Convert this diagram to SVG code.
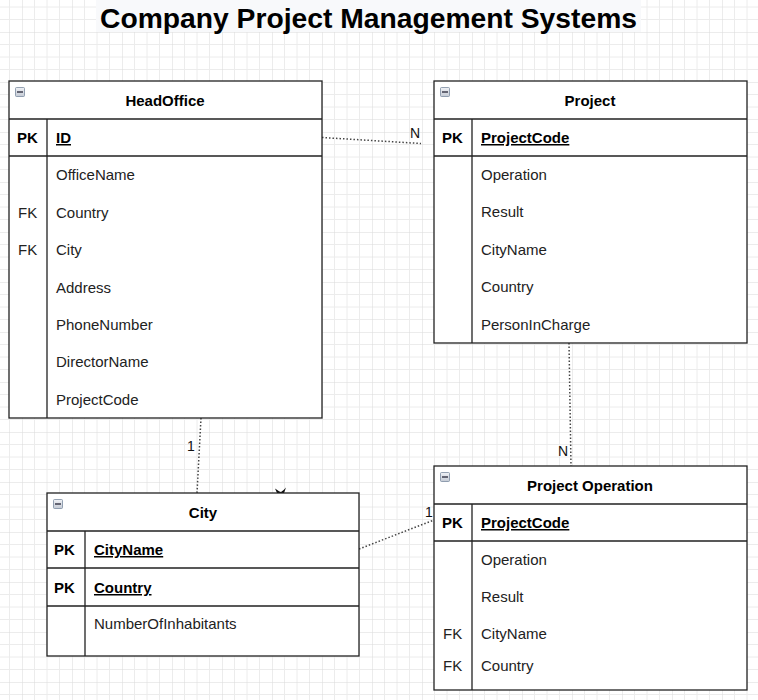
<svg xmlns="http://www.w3.org/2000/svg" width="758" height="700" viewBox="0 0 758 700">
<defs>
<style>
.tb{fill:#fff;stroke:#222;stroke-width:1.3}
.ln{stroke:#222;stroke-width:1.3;fill:none}
.hd{font-family:"Liberation Sans",Arial,sans-serif;font-size:15px;font-weight:bold;fill:#000;text-anchor:middle}
.pk{font-family:"Liberation Sans",Arial,sans-serif;font-size:15px;font-weight:bold;fill:#000}
.pkn{font-family:"Liberation Sans",Arial,sans-serif;font-size:15px;font-weight:bold;fill:#000;text-decoration:underline}
.f{font-family:"Liberation Sans",Arial,sans-serif;font-size:15px;fill:#222}
.lb{font-family:"Liberation Sans",Arial,sans-serif;font-size:14px;fill:#111}
.cn{stroke:#444;stroke-width:1.5;stroke-dasharray:1.5 2;fill:none}
.ic{fill:url(#icg);stroke:#7a8aa0;stroke-width:0.8}
</style>
<linearGradient id="icg" x1="0" y1="0" x2="0" y2="1"><stop offset="0" stop-color="#f0f2f6"/><stop offset="1" stop-color="#c4cad4"/></linearGradient>
<pattern id="grid" patternUnits="userSpaceOnUse" x="22" y="32" width="50" height="50">
<path d="M12.5 0V50M25 0V50M37.5 0V50M0 12.5H50M0 25H50M0 37.5H50" stroke="#ececec" stroke-width="1" fill="none"/>
<path d="M0 0V50M0 0H50" stroke="#dadada" stroke-width="1" fill="none"/>
</pattern>
<symbol id="minus" viewBox="0 0 10 10"><rect x="0.5" y="0.5" width="9" height="9" rx="1" class="ic"/><rect x="2" y="4.3" width="6" height="1.4" fill="#334"/></symbol>
</defs>
<rect width="758" height="700" fill="#fff"/>
<rect width="758" height="700" fill="url(#grid)"/>
<rect x="96" y="0" width="545" height="32" fill="#f8f9fb"/>
<text x="100" y="28" font-family="Liberation Sans,Arial,sans-serif" font-size="27" font-weight="bold" fill="#000" textLength="537" lengthAdjust="spacingAndGlyphs">Company Project Management Systems</text>

<g id="connectors">
<path class="cn" d="M322 137.5L421 143.5"/>
<path class="cn" d="M201 418L197 493"/>
<path class="cn" d="M569 343L571 466"/>
<path class="cn" d="M359 549L434 520"/>
<path d="M275 488.5Q280 492 281 492Q283 491 286 487.5L284 493H277Z" fill="#111"/>
<text class="lb" x="410" y="138">N</text>
<text class="lb" x="187" y="451">1</text>
<text class="lb" x="558" y="456">N</text>
<text class="lb" x="425" y="517">1</text>
</g>

<g id="HeadOffice">
<rect class="tb" x="9" y="81" width="313" height="337"/>
<path class="ln" d="M9 119H322M9 156H322M47 119V418"/>
<use href="#minus" x="15" y="87" width="10" height="10"/>
<text class="hd" x="165" y="106">HeadOffice</text>
<text class="pk" x="17" y="143">PK</text>
<text class="pkn" x="56" y="143">ID </text>
<text class="f" x="56" y="180">OfficeName</text>
<text class="f" x="18" y="218">FK</text>
<text class="f" x="56" y="218">Country</text>
<text class="f" x="18" y="255">FK</text>
<text class="f" x="56" y="255">City</text>
<text class="f" x="56" y="293">Address</text>
<text class="f" x="56" y="330">PhoneNumber</text>
<text class="f" x="56" y="367">DirectorName</text>
<text class="f" x="56" y="405">ProjectCode</text>
</g>

<g id="Project">
<rect class="tb" x="434" y="81" width="313" height="262"/>
<path class="ln" d="M434 119H747M434 156H747M472 119V343"/>
<use href="#minus" x="440" y="87" width="10" height="10"/>
<text class="hd" x="590" y="106">Project</text>
<text class="pk" x="442" y="143">PK</text>
<text class="pkn" x="481" y="143">ProjectCode</text>
<text class="f" x="481" y="180">Operation</text>
<text class="f" x="481" y="217">Result</text>
<text class="f" x="481" y="255">CityName</text>
<text class="f" x="481" y="292">Country</text>
<text class="f" x="481" y="330">PersonInCharge</text>
</g>

<g id="ProjectOperation">
<rect class="tb" x="434" y="466" width="313" height="224"/>
<path class="ln" d="M434 504H747M434 541H747M472 504V690"/>
<use href="#minus" x="440" y="472" width="10" height="10"/>
<text class="hd" x="590" y="491">Project Operation</text>
<text class="pk" x="442" y="528">PK</text>
<text class="pkn" x="481" y="528">ProjectCode</text>
<text class="f" x="481" y="565">Operation</text>
<text class="f" x="481" y="602">Result</text>
<text class="f" x="443" y="639">FK</text>
<text class="f" x="481" y="639">CityName</text>
<text class="f" x="443" y="671">FK</text>
<text class="f" x="481" y="671">Country</text>
</g>

<g id="City">
<rect class="tb" x="47" y="493" width="312" height="163"/>
<path class="ln" d="M47 531H359M47 568H359M47 606H359M85 531V656"/>
<use href="#minus" x="53" y="499" width="10" height="10"/>
<text class="hd" x="203" y="518">City</text>
<text class="pk" x="54" y="555">PK</text>
<text class="pkn" x="94" y="555">CityName</text>
<text class="pk" x="54" y="593">PK</text>
<text class="pkn" x="94" y="593">Country</text>
<text class="f" x="94" y="629">NumberOfInhabitants</text>
</g>
</svg>
